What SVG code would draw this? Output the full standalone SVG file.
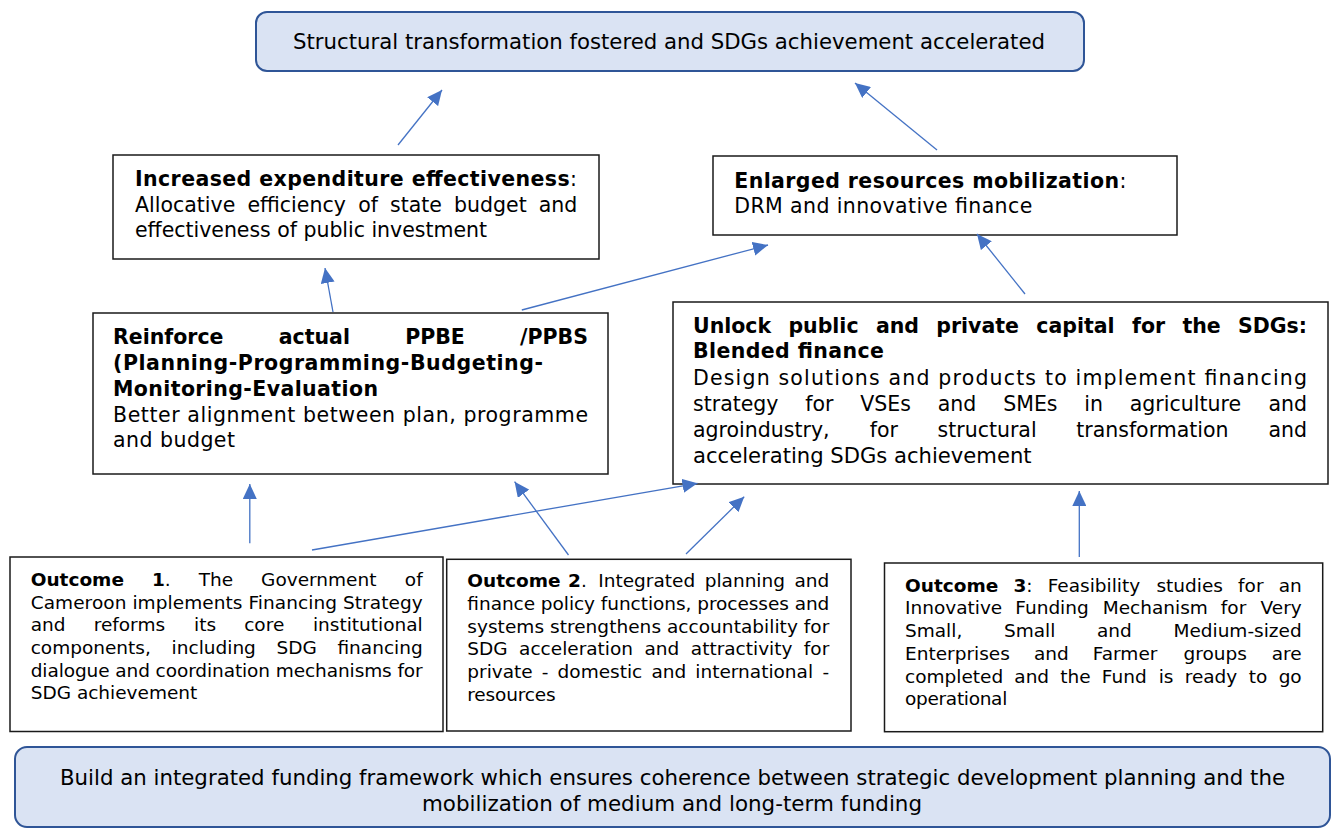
<svg xmlns="http://www.w3.org/2000/svg" width="1334" height="829" viewBox="0 0 1334 829">
<style>
.box{fill:#fff;stroke:#1a1a1a;stroke-width:1.5}
.rbox{fill:#dae3f3;stroke:#2f5597;stroke-width:2}
.t{font-family:"DejaVu Sans",Verdana,sans-serif;font-size:20.5px;fill:#000}
.o{font-size:18.5px}
.n{font-family:"DejaVu Sans",Verdana,sans-serif;font-size:21px;fill:#000}
.b{font-weight:bold}
.c{stroke:#4472c4;stroke-width:1.3;fill:none;marker-end:url(#ah)}
</style>
<defs>
<marker id="ah" markerUnits="userSpaceOnUse" markerWidth="16" markerHeight="14" refX="15" refY="7" orient="auto">
<path d="M0,0 L15,7 L0,14 z" fill="#4472c4"/>
</marker>
</defs>
<rect width="1334" height="829" fill="#fff"/>

<g id="goal">
<rect class="rbox" x="256" y="12" width="828" height="59" rx="11"/>
<text class="n" x="293" y="49" textLength="752" lengthAdjust="spacingAndGlyphs">Structural transformation fostered and SDGs achievement accelerated</text>
</g>

<g id="expenditure">
<rect class="box" x="113" y="155" width="486" height="104"/>
<text class="t" x="135" y="186" textLength="442" lengthAdjust="spacing"><tspan class="b">Increased expenditure effectiveness</tspan>:</text>
<text class="t" y="211.5"><tspan x="135">Allocative</tspan><tspan x="247.4">efficiency</tspan><tspan x="358.2">of</tspan><tspan x="390">state</tspan><tspan x="454">budget</tspan><tspan x="577.3" text-anchor="end">and</tspan></text>
<text class="t" x="135" y="237" textLength="352" lengthAdjust="spacing">effectiveness of public investment</text>
</g>

<g id="resources">
<rect class="box" x="713" y="156" width="464" height="79"/>
<text class="t" x="734.3" y="188" textLength="392" lengthAdjust="spacing"><tspan class="b">Enlarged resources mobilization</tspan>:</text>
<text class="t" x="734.3" y="213.3" textLength="298" lengthAdjust="spacing">DRM and innovative finance</text>
</g>

<g id="ppbe">
<rect class="box" x="93" y="313" width="515" height="161"/>
<text class="t b" y="344"><tspan x="113">Reinforce</tspan><tspan x="278.7">actual</tspan><tspan x="405.2">PPBE</tspan><tspan x="588" text-anchor="end">/PPBS</tspan></text>
<text class="t b" x="113" y="370" textLength="430" lengthAdjust="spacing">(Planning-Programming-Budgeting-</text>
<text class="t b" x="113" y="396" textLength="265" lengthAdjust="spacing">Monitoring-Evaluation</text>
<text class="t" x="113" y="421.7" textLength="475" lengthAdjust="spacing">Better alignment between plan, programme</text>
<text class="t" x="113" y="446.7" textLength="122" lengthAdjust="spacing">and budget</text>
</g>

<g id="blended">
<rect class="box" x="673" y="302" width="655" height="182"/>
<text class="t b" y="333.3"><tspan x="693">Unlock</tspan><tspan x="788.4">public</tspan><tspan x="875.9">and</tspan><tspan x="936.3">private</tspan><tspan x="1036.3">capital</tspan><tspan x="1132">for</tspan><tspan x="1182.4">the</tspan><tspan x="1307" text-anchor="end">SDGs:</tspan></text>
<text class="t b" x="693" y="358.3" textLength="191" lengthAdjust="spacing">Blended finance</text>
<text class="t" x="693" y="385" textLength="614" lengthAdjust="spacing">Design solutions and products to implement financing</text>
<text class="t" y="410.7"><tspan x="693">strategy</tspan><tspan x="805.3">for</tspan><tspan x="860.3">VSEs</tspan><tspan x="937.8">and</tspan><tspan x="1003.2">SMEs</tspan><tspan x="1084.3">in</tspan><tspan x="1129.8">agriculture</tspan><tspan x="1307" text-anchor="end">and</tspan></text>
<text class="t" y="436.7"><tspan x="693">agroindustry,</tspan><tspan x="869.7">for</tspan><tspan x="937.5">structural</tspan><tspan x="1076.2">transformation</tspan><tspan x="1307" text-anchor="end">and</tspan></text>
<text class="t" x="693" y="462.7" textLength="338.6" lengthAdjust="spacingAndGlyphs">accelerating SDGs achievement</text>
</g>

<g id="outcome1">
<rect class="box" x="10" y="557" width="433" height="174.5"/>
<text class="t o" y="586"><tspan x="30.7" class="b">Outcome</tspan><tspan x="151.9" class="b">1</tspan><tspan>.</tspan><tspan x="198.7">The</tspan><tspan x="261.1">Government</tspan><tspan x="422.7" text-anchor="end">of</tspan></text>
<text class="t o" x="30.7" y="609" textLength="392" lengthAdjust="spacing">Cameroon implements Financing Strategy</text>
<text class="t o" y="631.3"><tspan x="30.7">and</tspan><tspan x="93.7">reforms</tspan><tspan x="194">its</tspan><tspan x="244.2">core</tspan><tspan x="422.7" text-anchor="end">institutional</tspan></text>
<text class="t o" y="654"><tspan x="30.7">components,</tspan><tspan x="171.6">including</tspan><tspan x="276.6">SDG</tspan><tspan x="422.7" text-anchor="end">financing</tspan></text>
<text class="t o" x="30.7" y="676.7" textLength="392" lengthAdjust="spacing">dialogue and coordination mechanisms for</text>
<text class="t o" x="30.7" y="699.3" textLength="166.6" lengthAdjust="spacing">SDG achievement</text>
</g>

<g id="outcome2">
<rect class="box" x="446.7" y="559.3" width="404.3" height="171.7"/>
<text class="t o" y="586.7"><tspan x="467.3" class="b">Outcome</tspan><tspan x="568" class="b">2</tspan><tspan>.</tspan><tspan x="598.3">Integrated</tspan><tspan x="704.7">planning</tspan><tspan x="829.3" text-anchor="end">and</tspan></text>
<text class="t o" x="467.3" y="610" textLength="362" lengthAdjust="spacing">finance policy functions, processes and</text>
<text class="t o" x="467.3" y="632.7" textLength="362" lengthAdjust="spacing">systems strengthens accountability for</text>
<text class="t o" y="655.3"><tspan x="467.3">SDG</tspan><tspan x="519.1">acceleration</tspan><tspan x="644.5">and</tspan><tspan x="690.8">attractivity</tspan><tspan x="829.3" text-anchor="end">for</tspan></text>
<text class="t o" y="678.3"><tspan x="467.3">private</tspan><tspan x="541.8">-</tspan><tspan x="557.6">domestic</tspan><tspan x="651.4">and</tspan><tspan x="695.3">international</tspan><tspan x="829.3" text-anchor="end">-</tspan></text>
<text class="t o" x="467.3" y="700.7" textLength="88.4" lengthAdjust="spacing">resources</text>
</g>

<g id="outcome3">
<rect class="box" x="884.5" y="563" width="438.2" height="168.7"/>
<text class="t o" y="591.7"><tspan x="905" class="b">Outcome</tspan><tspan x="1013.4" class="b">3</tspan><tspan>:</tspan><tspan x="1047.7">Feasibility</tspan><tspan x="1156.4">studies</tspan><tspan x="1238.1">for</tspan><tspan x="1301.7" text-anchor="end">an</tspan></text>
<text class="t o" y="614.3"><tspan x="905">Innovative</tspan><tspan x="1015.3">Funding</tspan><tspan x="1102.7">Mechanism</tspan><tspan x="1220.8">for</tspan><tspan x="1301.7" text-anchor="end">Very</tspan></text>
<text class="t o" y="637.3"><tspan x="905">Small,</tspan><tspan x="1003.9">Small</tspan><tspan x="1096.9">and</tspan><tspan x="1301.7" text-anchor="end">Medium-sized</tspan></text>
<text class="t o" y="660"><tspan x="905">Enterprises</tspan><tspan x="1033.9">and</tspan><tspan x="1092.8">Farmer</tspan><tspan x="1183.5">groups</tspan><tspan x="1301.7" text-anchor="end">are</tspan></text>
<text class="t o" y="682.7"><tspan x="905">completed</tspan><tspan x="1014.3">and</tspan><tspan x="1060.3">the</tspan><tspan x="1101.8">Fund</tspan><tspan x="1158.7">is</tspan><tspan x="1184.7">ready</tspan><tspan x="1248.8">to</tspan><tspan x="1301.7" text-anchor="end">go</tspan></text>
<text class="t o" x="905" y="705.3" textLength="102.3" lengthAdjust="spacing">operational</text>
</g>

<g id="objective">
<rect class="rbox" x="15" y="747" width="1315" height="80" rx="12"/>
<text class="n" x="60" y="785" textLength="1225" lengthAdjust="spacingAndGlyphs">Build an integrated funding framework which ensures coherence between strategic development planning and the</text>
<text class="n" x="422" y="811" textLength="500" lengthAdjust="spacingAndGlyphs">mobilization of medium and long-term funding</text>
</g>

<g id="connectors">
<line class="c" x1="398" y1="145" x2="442" y2="90"/>
<line class="c" x1="937" y1="150" x2="855" y2="83"/>
<line class="c" x1="333" y1="312" x2="325" y2="268"/>
<line class="c" x1="521.8" y1="310" x2="768" y2="245"/>
<line class="c" x1="1025" y1="294" x2="977" y2="234"/>
<line class="c" x1="249.8" y1="543.3" x2="249.8" y2="484"/>
<line class="c" x1="312" y1="550" x2="697.5" y2="483.3"/>
<line class="c" x1="568.5" y1="555" x2="514.6" y2="481.7"/>
<line class="c" x1="686" y1="554" x2="744.2" y2="496.7"/>
<line class="c" x1="1079.3" y1="557" x2="1079.3" y2="491"/>
</g>
</svg>
